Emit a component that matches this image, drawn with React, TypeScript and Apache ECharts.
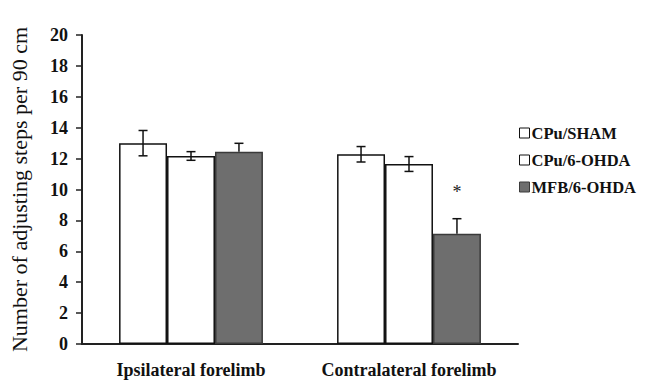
import React, { useEffect, useRef } from "react";
import * as echarts from "echarts";

const categories = ["Ipsilateral forelimb", "Contralateral forelimb"];
const seriesNames = ["CPu/SHAM", "CPu/6-OHDA", "MFB/6-OHDA"];
const shamValues = [13.0, 12.28];
const shamErrors = [0.82, 0.5];
const cpuOhdaValues = [12.17, 11.65];
const cpuOhdaErrors = [0.28, 0.48];
const mfbOhdaValues = [12.45, 7.14];
const mfbOhdaErrors = [0.54, 0.97];
const mfbSignificance = ["", "*"];
const yTicks = [0, 2, 4, 6, 8, 10, 12, 14, 16, 18, 20];

const FONT = "'Liberation Serif', 'Times New Roman', serif";
const BAR_W = 0.22;

export default function App() {
  const ref = useRef<HTMLDivElement>(null);
  useEffect(() => {
    if (!ref.current) return;
    const chart = echarts.init(ref.current, undefined, { renderer: "svg" });
    const allValues = [shamValues, cpuOhdaValues, mfbOhdaValues];
    const allErrors = [shamErrors, cpuOhdaErrors, mfbOhdaErrors];
    const errData: any[] = [];
    allValues.forEach((vals, si) => {
      vals.forEach((v, ci) => {
        const sig = si === 2 ? mfbSignificance[ci] : "";
        errData.push([ci, v, allErrors[si][ci], si, si === 2 ? 0 : 1, sig]);
      });
    });
    const fills = ["#ffffff", "#ffffff", "#6e6e6e"];
    const borders = ["#111", "#111", "#3a3a3a"];
    chart.setOption({
      animation: false,
      backgroundColor: "#fff",
      grid: { left: 78, right: 132, top: 35, bottom: 36 },
      legend: {
        orient: "vertical",
        left: 514,
        top: 119,
        icon: "rect",
        itemWidth: 10,
        itemHeight: 10,
        itemGap: 9,
        itemStyle: { borderWidth: 1 },
        textStyle: {
          fontFamily: FONT,
          fontSize: 16.5,
          fontWeight: "bold",
          color: "#111",
          lineHeight: 18,
          padding: [0, 0, 0, -3],
        },
        data: seriesNames,
      },
      xAxis: {
        type: "category",
        data: categories,
        axisLine: { lineStyle: { color: "#222", width: 2 } },
        axisTick: { show: false },
        axisLabel: {
          interval: 0,
          fontFamily: FONT,
          fontSize: 18,
          fontWeight: "bold",
          color: "#111",
          margin: 17,
        },
      },
      yAxis: {
        type: "value",
        min: yTicks[0],
        max: yTicks[yTicks.length - 1],
        interval: 2,
        name: "Number of adjusting steps per 90 cm",
        nameLocation: "middle",
        nameGap: 52,
        nameTextStyle: { fontFamily: FONT, fontSize: 22, color: "#111" },
        splitLine: { show: false },
        axisLine: { show: true, lineStyle: { color: "#222", width: 2 } },
        axisTick: { show: true, length: 6, lineStyle: { color: "#222", width: 1.5 } },
        axisLabel: {
          fontFamily: FONT,
          fontSize: 18,
          fontWeight: "bold",
          color: "#111",
          margin: 14,
        },
      },
      series: [
        ...[shamValues, cpuOhdaValues, mfbOhdaValues].map((vals, i) => ({
          name: seriesNames[i],
          type: "bar",
          data: vals,
          barWidth: BAR_W * 100 + "%",
          barGap: "0%",
          itemStyle: { color: fills[i], borderColor: borders[i], borderWidth: 1.5 },
        })),
        {
          type: "custom",
          data: errData,
          z: 10,
          silent: true,
          renderItem: (params: any, api: any) => {
            const ci = api.value(0);
            const v = api.value(1);
            const e = api.value(2);
            const si = api.value(3);
            const full = api.value(4);
            const sig = errData[params.dataIndex][5];
            const c = api.coord([ci, v]);
            const catW = api.size([1, 0])[0];
            const x = c[0] + (si - 1) * catW * BAR_W;
            const top = api.coord([ci, v + e])[1];
            const bot = full ? api.coord([ci, v - e])[1] : c[1];
            const cap = 4.5;
            const st = { stroke: "#111", lineWidth: 1.5 };
            const children: any[] = [
              { type: "line", shape: { x1: x, y1: top, x2: x, y2: bot }, style: st },
              { type: "line", shape: { x1: x - cap, y1: top, x2: x + cap, y2: top }, style: st },
            ];
            if (full) {
              children.push({ type: "line", shape: { x1: x - cap, y1: bot, x2: x + cap, y2: bot }, style: st });
            }
            if (sig) {
              children.push({
                type: "text",
                x: x,
                y: top - 27,
                style: {
                  text: sig,
                  fontFamily: FONT,
                  fontSize: 18,
                  fill: "#222",
                  textAlign: "center",
                  textVerticalAlign: "middle",
                },
              });
            }
            return { type: "group", children };
          },
        },
      ],
    });
    return () => chart.dispose();
  }, []);
  return (
    <div
      ref={ref}
      style={{ position: "fixed", left: 0, top: 0, width: 650, height: 380 }}
    />
  );
}
